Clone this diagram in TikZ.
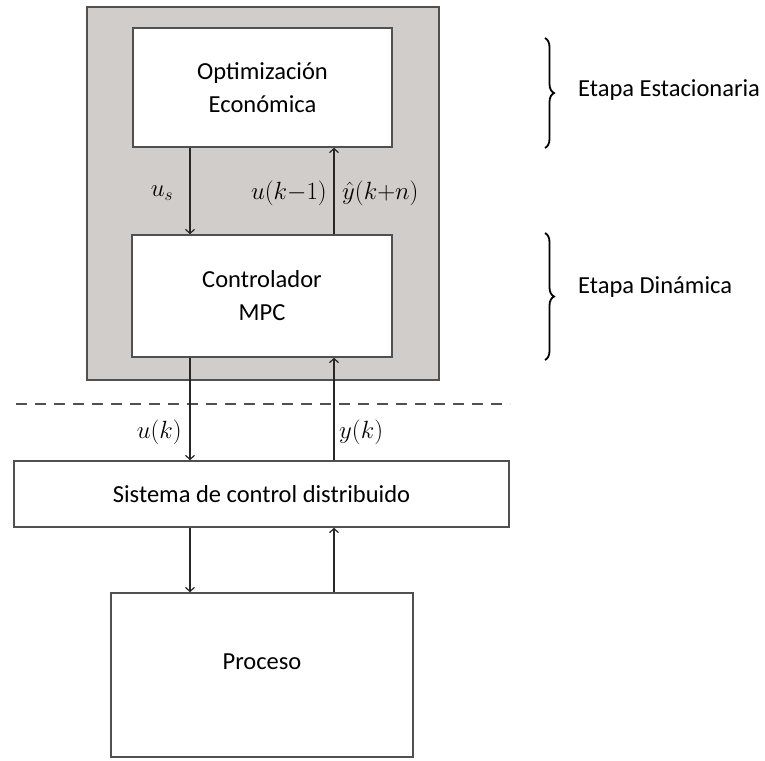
\documentclass[tikz,border=0pt]{standalone}
\usepackage[no-math]{fontspec}
\setmainfont{Carlito}
\usetikzlibrary{arrows.meta,decorations.pathreplacing}
\definecolor{panelgray}{RGB}{208,205,203}
\definecolor{edgegray}{RGB}{80,80,80}
\begin{document}
\begin{tikzpicture}[x=1pt,y=-1pt,
  box/.style={draw=edgegray,line width=1.6pt,fill=white,inner sep=0pt,align=center,font=\fontsize{24.5}{33}\selectfont},
  sig/.style={draw=black!85,line width=1.2pt,-{Straight Barb[length=4pt,width=9pt,line width=1.2pt]}},
  lbl/.style={inner sep=0pt,font=\fontsize{23}{27}\selectfont},
  side/.style={inner sep=0pt,anchor=west,font=\fontsize{24.5}{28}\selectfont},
  brc/.style={draw=black,line width=1.8pt,decorate,decoration={brace,amplitude=9pt}}]
\useasboundingbox (0,0) rectangle (765,760);
% gray panel
\node[draw=edgegray,line width=2pt,fill=panelgray,minimum width=352pt,minimum height=373pt,inner sep=0pt] (panel) at (263,193.5) {};
% blocks
\node[box,minimum width=259pt,minimum height=119pt] (opt) at (262.5,87.5) {Optimización\\Económica};
\node[box,minimum width=260pt,minimum height=122pt] (ctrl) at (262,296) {Controlador\\MPC};
\node[box,minimum width=495pt,minimum height=66pt] (dcs) at (261.5,494) {Sistema de control distribuido};
\node[box,minimum width=302pt,minimum height=164pt] (proc) at (262,675) {};
\node[inner sep=0pt,font=\fontsize{24.5}{28}\selectfont] (proctext) at (262,662) {Proceso};
% dashed separator
\coordinate (dl) at (16,404);
\coordinate (dr) at (510,404);
\draw[draw=edgegray,line width=1.6pt,dash pattern=on 11pt off 8pt] (dl) -- (dr);
% arrow columns
\coordinate (dnx) at (190,0);
\coordinate (upx) at (334,0);
\draw[sig] (opt.south -| dnx) -- (ctrl.north -| dnx);
\draw[sig] (ctrl.north -| upx) -- (opt.south -| upx);
\draw[sig] (ctrl.south -| dnx) -- (dcs.north -| dnx);
\draw[sig] (dcs.north -| upx) -- (ctrl.south -| upx);
\draw[sig] (dcs.south -| dnx) -- (proc.north -| dnx);
\draw[sig] (proc.north -| upx) -- (dcs.south -| upx);
% signal labels
\node[lbl] (us) at (162,193) {$u_s$};
\node[lbl,anchor=east] (ukm) at (327,193) {$u(k{-}1)$};
\node[lbl,anchor=west] (yhat) at (342,193) {$\hat{y}(k{+}n)$};
\node[lbl,anchor=east] (uk) at (182,432) {$u(k)$};
\node[lbl,anchor=west] (yk) at (339,432) {$y(k)$};
% stage braces
\coordinate (b1t) at (545,38);
\coordinate (b1b) at (545,148);
\coordinate (b2t) at (545,233);
\coordinate (b2b) at (545,360);
\draw[brc] (b1t) -- (b1b);
\draw[brc] (b2t) -- (b2b);
\node[side] (est) at (578,90) {Etapa Estacionaria};
\node[side] (din) at (578,287) {Etapa Dinámica};
\end{tikzpicture}
\end{document}
